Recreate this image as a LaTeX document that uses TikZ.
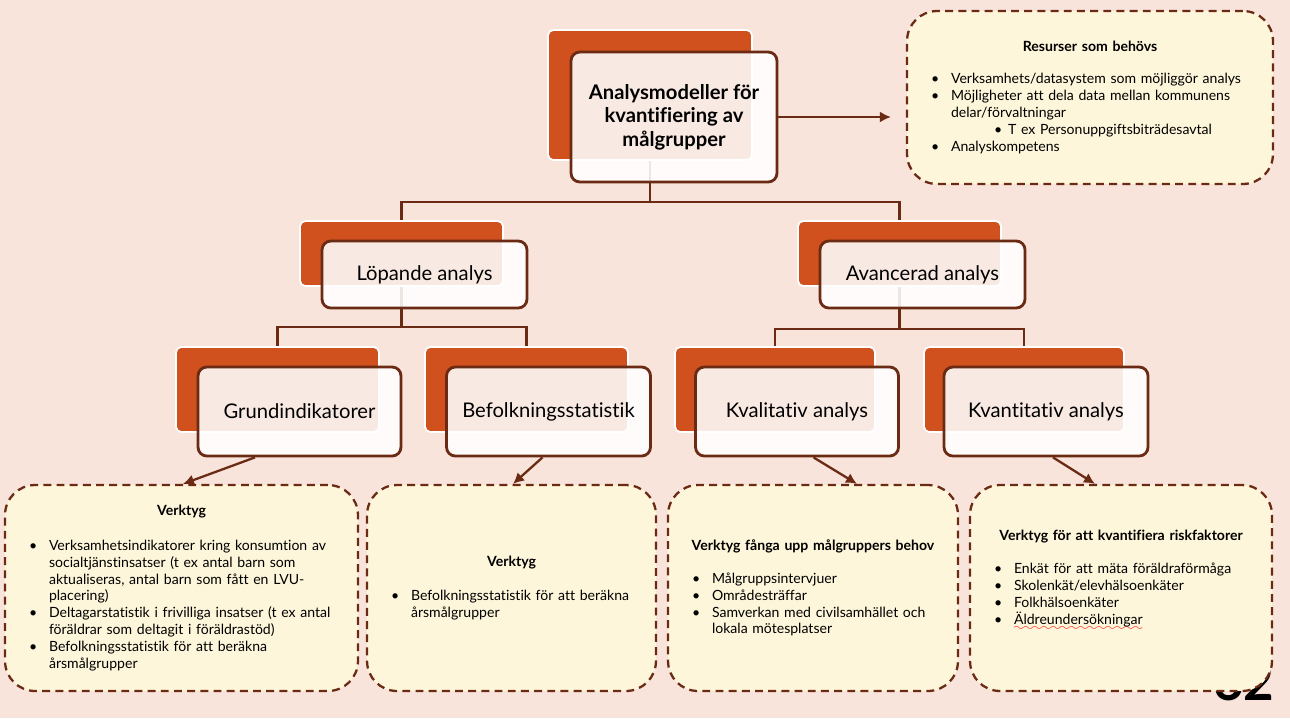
\documentclass[tikz,border=0pt]{standalone}
\usepackage{fontspec}
\setmainfont{Lato}[Ligatures=NoCommon]
\usepackage{tikz}
\usetikzlibrary{arrows.meta, positioning}
\definecolor{peachbg}{HTML}{F9E4DB}
\definecolor{rustorange}{HTML}{D0501E}
\definecolor{darkbrown}{HTML}{6B2A14}
\definecolor{creamfill}{HTML}{FEF6DA}

\font\wavefont=lasy6
\newsavebox{\wavebox}
\newcommand{\spellwave}[1]{\sbox{\wavebox}{#1}\rlap{\raisebox{-3.3pt}{\textcolor{red}{\hbox to \wd\wavebox{\xleaders\hbox{\wavefont\char58}\hfil}}}}\usebox{\wavebox}}
\newcommand{\bitem}[1]{\par\noindent\hangindent=0.68cm\hangafter=1\hbox to 0.68cm{\hskip0.28cm\textbullet\hfil}#1\par}
\newcommand{\bsubitem}[1]{\par\noindent\hangindent=1.82cm\hangafter=1\hbox to 1.82cm{\hskip1.54cm\textbullet\hfil}#1\par}

\begin{document}
\begin{tikzpicture}[
    x=0.02cm, y=-0.02cm,
    backbox/.style={
      rectangle,
      rounded corners=3pt,
      fill=rustorange,
      draw=white,
      line width=1pt,
      inner sep=0pt
    },
    frontbox/.style={
      rectangle,
      rounded corners=5pt,
      fill=white,
      fill opacity=0.88,
      text opacity=1,
      draw=darkbrown,
      line width=1.6pt,
      align=center,
      font=\fontsize{11.5}{13.3}\selectfont
    },
    toolbox/.style={
      rectangle,
      rounded corners=0.6cm,
      fill=creamfill,
      draw=darkbrown,
      line width=1.3pt,
      dash pattern=on 4.5pt off 3pt,
      inner xsep=0.2cm,
      inner ysep=0pt,
      align=left,
      font=\fontsize{8}{9.6}\selectfont
    },
    link/.style={draw=darkbrown, line width=1.4pt},
    arrow/.style={-{Latex[length=2.2mm, width=2.2mm]}, line width=1.3pt, draw=darkbrown}
  ]
    \fill[peachbg] (0,0) rectangle (1290,718);
    \useasboundingbox (0,0) rectangle (1290,718);

    % page number, mostly hidden under the last box
    \begin{scope}
      \clip (0,0) rectangle (1272,718);
      \node[anchor=base west, inner sep=0pt, font=\fontsize{30}{30}\selectfont\bfseries] (pagenum) at (1213,700) {62};
    \end{scope}

    % orange cards behind
    \node[backbox, minimum width=4.08cm, minimum height=2.6cm] (topback) at (650,95) {};
    \node[backbox, minimum width=4.06cm, minimum height=1.3cm] (lopback) at (401.5,253.5) {};
    \node[backbox, minimum width=4.06cm, minimum height=1.3cm] (avback) at (899.5,253.5) {};
    \node[backbox, minimum width=4.06cm, minimum height=1.7cm] (grundback) at (277.5,389.5) {};
    \node[backbox, minimum width=4.06cm, minimum height=1.7cm] (befback) at (526.5,389.5) {};
    \node[backbox, minimum width=4.0cm, minimum height=1.7cm] (kvalback) at (775,389.5) {};
    \node[backbox, minimum width=4.0cm, minimum height=1.7cm] (kvantback) at (1024,389.5) {};

    \draw[link] (topback.south) -- ++(0,41) -| (lopback.north);
    \draw[link] (topback.south) -- ++(0,41) -| (avback.north);
    \draw[link] (lopback.south) -- ++(0,40) -| (grundback.north);
    \draw[link] (lopback.south) -- ++(0,40) -| (befback.north);
    \draw[link] (avback.south) -- ++(0,42) -| (kvalback.north);
    \draw[link] (avback.south) -- ++(0,42) -| (kvantback.north);

    % white cards in front
    \node[frontbox, font=\fontsize{11.5}{13.3}\selectfont\bfseries, minimum width=4.12cm, minimum height=2.6cm] (topfront) at ([shift={(24,22)}]topback.center) {Analysmodeller för\\kvantifiering av\\målgrupper};
    \node[frontbox, minimum width=4.1cm, minimum height=1.34cm] (lopfront) at ([shift={(23,21)}]lopback.center) {Löpande analys};
    \node[frontbox, minimum width=4.1cm, minimum height=1.34cm] (avfront) at ([shift={(23,21)}]avback.center) {Avancerad analys};
    \node[frontbox, minimum width=4.06cm, minimum height=1.78cm] (grundfront) at ([shift={(22,22)}]grundback.center) {Grundindikatorer};
    \node[frontbox, minimum width=4.08cm, minimum height=1.78cm] (beffront) at ([shift={(22,22)}]befback.center) {Befolkningsstatistik};
    \node[frontbox, minimum width=4.06cm, minimum height=1.78cm] (kvalfront) at ([shift={(22,22)}]kvalback.center) {Kvalitativ analys};
    \node[frontbox, minimum width=4.08cm, minimum height=1.78cm] (kvantfront) at ([shift={(22,22)}]kvantback.center) {Kvantitativ analys};

    % dashed boxes
    \node[toolbox, text width=6.92cm, minimum height=3.46cm] (resources) at (1090,97.5) {%
      {\centering\bfseries Resurser som behövs\par}\vskip0.3cm
      \bitem{Verksamhets/datasystem som möjliggör analys}
      \bitem{Möjligheter att dela data mellan kommunens\newline delar/förvaltningar}
      \bsubitem{T ex Personuppgiftsbiträdesavtal}
      \bitem{Analyskompetens}};
    \node[toolbox, text width=6.66cm, minimum height=4.12cm] (tool1) at (181.5,588) {%
      {\centering\bfseries Verktyg\par}\vskip0.36cm
      \bitem{Verksamhetsindikatorer kring konsumtion av\newline socialtjänstinsatser (t ex antal barn som\newline aktualiseras, antal barn som fått en LVU-\newline placering)}
      \bitem{Deltagarstatistik i frivilliga insatser (t ex antal\newline föräldrar som deltagit i föräldrastöd)}
      \bitem{Befolkningsstatistik för att beräkna\newline årsmålgrupper}};
    \node[toolbox, text width=5.38cm, minimum height=4.12cm] (tool2) at (511.5,588) {%
      {\centering\bfseries Verktyg\par}\vskip0.36cm
      \bitem{Befolkningsstatistik för att beräkna\newline årsmålgrupper}};
    \node[toolbox, text width=5.4cm, minimum height=4.12cm] (tool3) at (813,588) {%
      {\centering\bfseries Verktyg fånga upp målgruppers behov\par}\vskip0.32cm
      \bitem{Målgruppsintervjuer}
      \bitem{Områdesträffar}
      \bitem{Samverkan med civilsamhället och\newline lokala mötesplatser}};
    \node[toolbox, text width=5.64cm, minimum height=4.12cm] (tool4) at (1121,588) {%
      {\centering\bfseries Verktyg för att kvantifiera riskfaktorer\par}\vskip0.34cm
      \bitem{Enkät för att mäta föräldraförmåga}
      \bitem{Skolenkät/elevhälsoenkäter}
      \bitem{Folkhälsoenkäter}
      \bitem{\spellwave{Äldreundersökningar}}
      \vskip0.32cm\hrule height0pt width0pt};

    \draw[arrow, shorten >=0.3cm] (topfront.east) -- (topfront.east -| resources.west);
    \draw[arrow] ([xshift=-0.89cm]grundfront.south) -- ([xshift=0.03cm]tool1.north);
    \draw[arrow] ([xshift=-0.12cm]beffront.south) -- ([xshift=0.03cm]tool2.north);
    \draw[arrow] ([xshift=0.33cm]kvalfront.south) -- ([xshift=0.88cm]tool3.north);
    \draw[arrow] ([xshift=0.14cm]kvantfront.south) -- ([xshift=-0.52cm]tool4.north);
  \end{tikzpicture}
\end{document}
